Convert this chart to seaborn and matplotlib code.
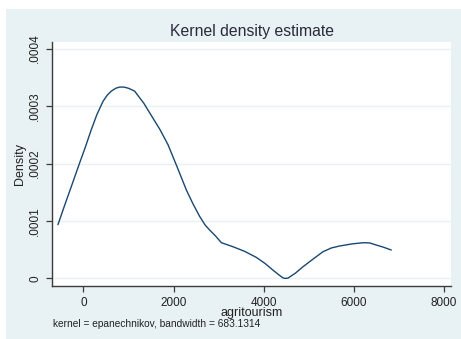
import matplotlib
matplotlib.use("Agg")
import matplotlib.pyplot as plt
from matplotlib.patches import Rectangle
import seaborn as sns
import pandas as pd

# Kernel density estimate of agritourism (evaluation points and densities)
agritourism = [-563, -420, -266, -82, 29, 177, 300, 435, 530, 621, 720, 805,
               900, 1000, 1137, 1340, 1543, 1700, 1876, 2080, 2284, 2430,
               2579, 2700, 2800, 2930, 3060, 3317, 3580, 3836, 4030, 4204,
               4340, 4426, 4480, 4537, 4700, 4869, 5100, 5313, 5500, 5683,
               5950, 6200, 6350, 6496, 6650, 6829]
density = [0.0000935, 0.000126, 0.000160, 0.000201, 0.000225, 0.000259,
           0.000285, 0.000308, 0.000319, 0.000326, 0.000331, 0.000333,
           0.000333, 0.000331, 0.000326, 0.000305, 0.000279, 0.000259,
           0.000233, 0.000194, 0.000154, 0.000130, 0.000108, 0.0000930,
           0.0000843, 0.0000740, 0.0000622, 0.0000552, 0.0000470,
           0.0000366, 0.0000260, 0.0000145, 0.0000060, 0.0000010, 0.0,
           0.0000005, 0.0000090, 0.0000202, 0.0000340, 0.0000464,
           0.0000530, 0.0000564, 0.0000600, 0.0000621, 0.0000618,
           0.0000581, 0.0000545, 0.0000494]

x_ticks = [0, 2000, 4000, 6000, 8000]
y_ticks = [0, 0.0001, 0.0002, 0.0003, 0.0004]
y_tick_labels = ["0", ".0001", ".0002", ".0003", ".0004"]

df = pd.DataFrame({"agritourism": agritourism, "Density": density})

sns.set_style("white")
plt.rcParams["font.family"] = ["Liberation Sans", "DejaVu Sans"]

panel = "#e8f1f3"
axis_col = "#3c3c3c"
text_col = "#222222"

fig = plt.figure(figsize=(4.61, 3.39), dpi=100, facecolor="white")

# Light graph-region panel behind the plot region
bg = fig.add_axes([0, 0, 1, 1], zorder=-10)
bg.axis("off")
bg.set_xlim(0, 1)
bg.set_ylim(0, 1)
bg.add_patch(Rectangle((6 / 461, 0.0), 1 - 6 / 461, 1 - 9 / 339,
                       facecolor=panel, edgecolor="none"))

ax = fig.add_axes([0.112, 0.156, 0.866, 0.721], zorder=1)
ax.set_facecolor("white")

sns.lineplot(data=df, x="agritourism", y="Density", ax=ax, color="#1a476f",
             linewidth=1.0, sort=False)

ax.set_xlim(-703, 8150)
ax.set_ylim(-0.0000134, 0.000412)
ax.set_xticks(x_ticks)
ax.set_xticklabels([str(t) for t in x_ticks])
ax.set_yticks(y_ticks)
ax.set_yticklabels(y_tick_labels, rotation=90, va="center")

for y in y_ticks:
    ax.axhline(y, color=panel, linewidth=1.0, zorder=0)

for side in ["top", "right"]:
    ax.spines[side].set_visible(False)
for side in ["left", "bottom"]:
    ax.spines[side].set_color(axis_col)
    ax.spines[side].set_linewidth(1.0)

ax.tick_params(axis="both", direction="out", length=4, width=0.9,
               color=axis_col, labelsize=8.5, labelcolor=text_col, pad=3.5,
               left=True, bottom=True)

ax.set_xlabel("agritourism", fontsize=9, color=text_col, labelpad=-1)
ax.set_ylabel("Density", fontsize=9, color=text_col, labelpad=2)

fig.text(0.547, 0.908, "Kernel density estimate", ha="center", va="center",
         fontsize=11.3, color="#2a2a3a")
fig.text(53 / 461, 1 - 324 / 339, "kernel = epanechnikov, bandwidth = 683.1314",
         ha="left", va="center", fontsize=7.3, color=text_col)

fig.savefig("out.png", dpi=100, facecolor=fig.get_facecolor())
